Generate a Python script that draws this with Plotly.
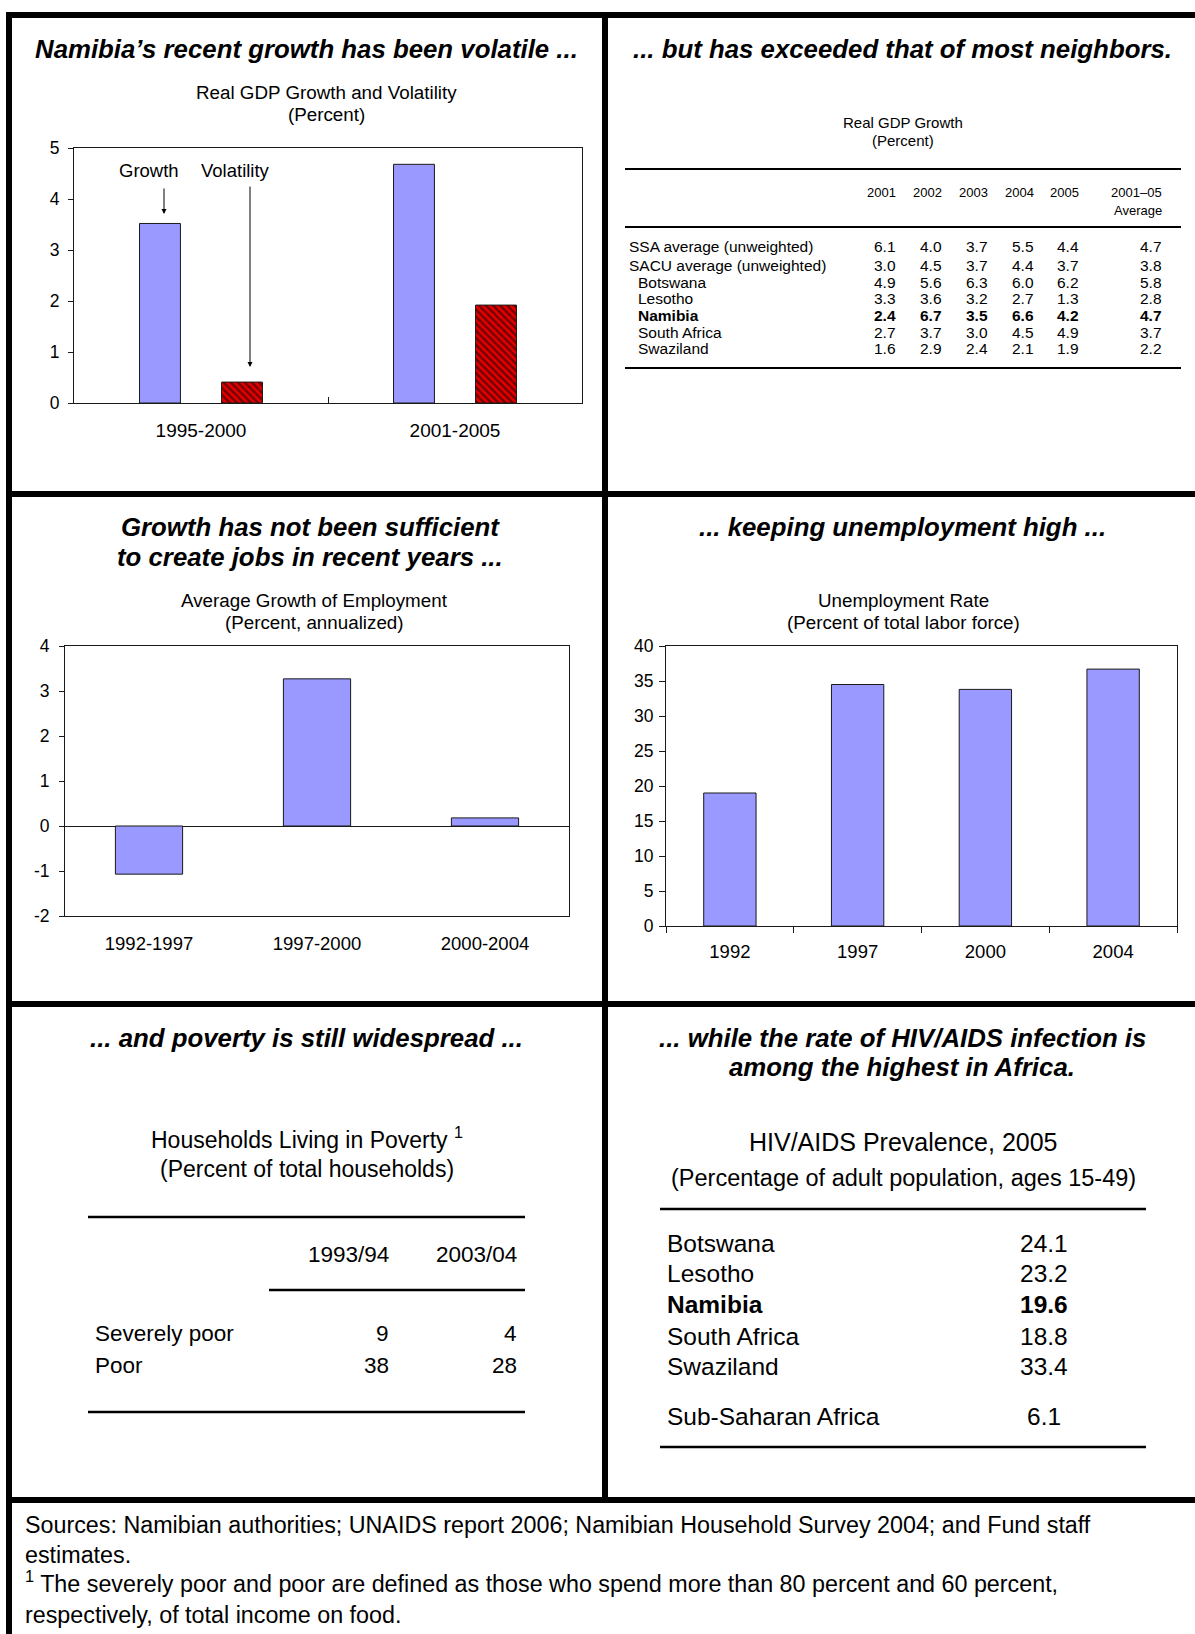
import plotly.graph_objects as go

W, H = 1195, 1634
FONT = "Liberation Sans, Arial, Helvetica, sans-serif"
PERI = "#9999FF"
RED = "#E80000"
EDGE = "#1a1a1a"
FRAME = "#1a1a1a"


def px(x):
    return x / W


def py(y):
    return 1 - y / H


# ---- Real GDP growth and volatility ----
gdp_periods = ["1995-2000", "2001-2005"]
gdp_growth = [3.52, 4.68]
gdp_volatility = [0.41, 1.92]
gdp_yticks = [0, 1, 2, 3, 4, 5]

# ---- Real GDP growth table ----
table_years = ["2001", "2002", "2003", "2004", "2005"]
table_avg_head = ["2001–05", "Average"]
table_labels = ["SSA average (unweighted)", "SACU average (unweighted)", "Botswana",
                "Lesotho", "Namibia", "South Africa", "Swaziland"]
ssa_growth = [6.1, 4.0, 3.7, 5.5, 4.4, 4.7]
sacu_growth = [3.0, 4.5, 3.7, 4.4, 3.7, 3.8]
botswana_growth = [4.9, 5.6, 6.3, 6.0, 6.2, 5.8]
lesotho_growth = [3.3, 3.6, 3.2, 2.7, 1.3, 2.8]
namibia_growth = [2.4, 6.7, 3.5, 6.6, 4.2, 4.7]
south_africa_growth = [2.7, 3.7, 3.0, 4.5, 4.9, 3.7]
swaziland_growth = [1.6, 2.9, 2.4, 2.1, 1.9, 2.2]

# ---- Employment growth ----
emp_periods = ["1992-1997", "1997-2000", "2000-2004"]
emp_growth = [-1.07, 3.27, 0.18]
emp_yticks = [-2, -1, 0, 1, 2, 3, 4]

# ---- Unemployment ----
unemp_years = ["1992", "1997", "2000", "2004"]
unemp_rate = [19.0, 34.5, 33.8, 36.7]
unemp_yticks = [0, 5, 10, 15, 20, 25, 30, 35, 40]

# ---- Poverty ----
poverty_years = ["1993/94", "2003/04"]
poverty_labels = ["Severely poor", "Poor"]
severely_poor = [9, 4]
poor = [38, 28]

# ---- HIV/AIDS ----
hiv_countries = ["Botswana", "Lesotho", "Namibia", "South Africa", "Swaziland"]
hiv_prevalence = [24.1, 23.2, 19.6, 18.8, 33.4]
hiv_ssa_label = "Sub-Saharan Africa"
hiv_ssa = 6.1

footer_lines = [
    "Sources: Namibian authorities; UNAIDS report 2006; Namibian Household Survey 2004; and Fund staff",
    "estimates.",
    "<sup>1</sup> The severely poor and poor are defined as those who spend more than 80 percent and 60 percent,",
    "respectively, of total income on food.",
]

fig = go.Figure()

# GDP bars
fig.add_trace(go.Bar(
    x=gdp_periods, y=gdp_growth, xaxis="x", yaxis="y",
    width=0.161, offset=-0.242,
    marker=dict(color=PERI, line=dict(color=EDGE, width=1)),
    showlegend=False, hoverinfo="skip"))
fig.add_trace(go.Bar(
    x=gdp_periods, y=gdp_volatility, xaxis="x", yaxis="y",
    width=0.161, offset=0.081,
    marker=dict(color=RED, line=dict(color=EDGE, width=1),
                pattern=dict(shape="\\", fgcolor="#000000", bgcolor=RED,
                             size=5, solidity=0.5)),
    showlegend=False, hoverinfo="skip"))

# Employment bars
fig.add_trace(go.Bar(
    x=emp_periods, y=emp_growth, xaxis="x2", yaxis="y2",
    width=0.40, offset=-0.20,
    marker=dict(color=PERI, line=dict(color=EDGE, width=1)),
    showlegend=False, hoverinfo="skip"))

# Unemployment bars
fig.add_trace(go.Bar(
    x=unemp_years, y=unemp_rate, xaxis="x3", yaxis="y3",
    width=0.41, offset=-0.205,
    marker=dict(color=PERI, line=dict(color=EDGE, width=1)),
    showlegend=False, hoverinfo="skip"))

box = dict(showline=True, linecolor=FRAME, linewidth=1, mirror=True,
           showgrid=False, zeroline=False, fixedrange=True, automargin=False,
           tickcolor=FRAME, tickfont=dict(family=FONT, size=18.5, color="#000"))
ytf = dict(family=FONT, size=17.5, color="#000")

fig.update_layout(
    width=W, height=H,
    margin=dict(l=0, r=0, t=0, b=0, pad=0, autoexpand=False),
    paper_bgcolor="white", plot_bgcolor="white",
    font=dict(family=FONT, color="#000"),
    barmode="overlay",
    xaxis=dict(box, domain=[px(74), px(582)], anchor="y", type="category",
               ticks="inside", tickson="boundaries", ticklen=6, ticklabelstandoff=10,
               tickfont=dict(family=FONT, size=19, color="#000")),
    yaxis=dict(box, domain=[py(403), py(148)], anchor="x", range=[0, 5],
               tickvals=gdp_yticks, ticktext=[str(v) for v in gdp_yticks],
               ticks="outside", ticklen=5, ticklabelstandoff=5, tickfont=ytf),
    xaxis2=dict(box, domain=[px(65), px(569)], anchor="y2", type="category",
                ticks="", ticklabelstandoff=11),
    yaxis2=dict(box, domain=[py(916), py(646)], anchor="x2", range=[-2, 4],
                tickvals=emp_yticks, ticktext=[str(v) for v in emp_yticks],
                ticks="outside", ticklen=5, ticklabelstandoff=6,
                zeroline=True, zerolinecolor=FRAME, zerolinewidth=1, tickfont=ytf),
    # category-boundary ticks hanging from the zero line
    xaxis4=dict(overlaying="x2", anchor="free", position=py(826), type="linear",
                range=[-0.5, 2.5], tickvals=[0.5, 1.5], ticks="outside", ticklen=6,
                tickcolor=FRAME, showticklabels=False, showline=False,
                showgrid=False, zeroline=False, fixedrange=True, automargin=False),
    xaxis3=dict(box, domain=[px(666), px(1177)], anchor="y3", type="category",
                ticks="outside", tickson="boundaries", ticklen=6, ticklabelstandoff=9),
    yaxis3=dict(box, domain=[py(926), py(646)], anchor="x3", range=[0, 40],
                tickvals=unemp_yticks, ticktext=[str(v) for v in unemp_yticks],
                ticks="outside", ticklen=6, ticklabelstandoff=2, tickfont=ytf),
)

ann = []


def txt(x, y, s, size, anchor="center", bold=False, italic=False):
    if italic:
        s = "<i>" + s + "</i>"
    if bold:
        s = "<b>" + s + "</b>"
    ann.append(dict(x=px(x), y=py(y), xref="paper", yref="paper", text=s,
                    showarrow=False, xanchor=anchor, yanchor="middle",
                    font=dict(family=FONT, size=size, color="#000")))


TS = 25.8
# Panel titles
txt(306, 49, "Namibia’s recent growth has been volatile ...", TS, bold=True, italic=True)
txt(902, 49, "... but has exceeded that of most neighbors.", TS, bold=True, italic=True)
txt(310, 527, "Growth has not been sufficient", TS, bold=True, italic=True)
txt(310, 557, "to create jobs in recent years ...", TS, bold=True, italic=True)
txt(902, 527, "... keeping unemployment high ...", TS, bold=True, italic=True)
txt(306, 1038, "... and poverty is still widespread ...", TS, bold=True, italic=True)
txt(902, 1038, "... while the rate of HIV/AIDS infection is", TS, bold=True, italic=True)
txt(902, 1067, "among the highest in Africa.", TS, bold=True, italic=True)

# Chart subtitles
txt(326, 92, "Real GDP Growth and Volatility", 18.8)
txt(326, 114, "(Percent)", 18.8)
txt(314, 600, "Average Growth of Employment", 18.8)
txt(314, 622, "(Percent, annualized)", 18.8)
txt(903, 600, "Unemployment Rate", 18.8)
txt(903, 622, "(Percent of total labor force)", 18.8)

# Growth / Volatility call-outs
txt(149, 170, "Growth", 18.5)
txt(235, 170, "Volatility", 18.5)
for ax_x, y0, y1 in [(164, 187, 214), (250, 185, 367)]:
    ann.append(dict(x=px(ax_x), y=py(y1), xref="paper", yref="paper",
                    ax=0, ay=-(y1 - y0), axref="pixel", ayref="pixel",
                    text="", showarrow=True, arrowhead=2, arrowsize=1,
                    arrowwidth=1, arrowcolor="#000", standoff=0, startstandoff=0))

# ---- GDP growth table ----
txt(903, 123, "Real GDP Growth", 15)
txt(903, 141, "(Percent)", 15)
col_right = [898, 944, 990, 1036, 1081, 1164]
for xr, yr in zip(col_right, table_years):
    txt(xr, 192, yr, 13, anchor="right")
txt(col_right[-1], 192, table_avg_head[0], 13, anchor="right")
txt(col_right[-1], 210, table_avg_head[1], 13, anchor="right")
table_values = [ssa_growth, sacu_growth, botswana_growth, lesotho_growth,
                namibia_growth, south_africa_growth, swaziland_growth]
row_y = [246, 265, 282, 298, 315, 332, 348]
for i, (lab, vals, yy) in enumerate(zip(table_labels, table_values, row_y)):
    bold = lab == "Namibia"
    txt(627 if i < 2 else 636, yy, lab, 15.5, anchor="left", bold=bold)
    for xr, v in zip(col_right, vals):
        txt(xr, yy, f"{v:.1f}", 15.5, anchor="right", bold=bold)

# ---- Poverty table ----
txt(307, 1138, "Households Living in Poverty <sup>1</sup>", 23)
txt(307, 1169, "(Percent of total households)", 23)
pov_right = [391, 519]
for xr, yr in zip(pov_right, poverty_years):
    txt(xr, 1254, yr, 22.5, anchor="right")
for lab, vals, yy in zip(poverty_labels, [severely_poor, poor], [1333, 1365]):
    txt(93, yy, lab, 22.5, anchor="left")
    for xr, v in zip(pov_right, vals):
        txt(xr, yy, str(v), 22.5, anchor="right")

# ---- HIV/AIDS table ----
txt(903, 1142, "HIV/AIDS Prevalence, 2005", 25)
txt(903, 1178, "(Percentage of adult population, ages 15-49)", 23.5)
for lab, v, yy in zip(hiv_countries, hiv_prevalence, [1243, 1273, 1304, 1336, 1366]):
    bold = lab == "Namibia"
    txt(665, yy, lab, 24.5, anchor="left", bold=bold)
    txt(1044, yy, f"{v:.1f}", 24.5, bold=bold)
txt(665, 1416, hiv_ssa_label, 24.5, anchor="left")
txt(1044, 1416, f"{hiv_ssa:.1f}", 24.5)

# ---- Footer ----
for line, yy in zip(footer_lines, [1525, 1555, 1582, 1615]):
    txt(23, yy, line, 23.3, anchor="left")

fig.update_layout(annotations=ann)

# Frame and rules
shapes = []


def rect(x0, y0, x1, y1):
    shapes.append(dict(type="rect", xref="paper", yref="paper",
                       x0=px(x0), x1=px(x1), y0=py(y1), y1=py(y0),
                       fillcolor="#000", line=dict(width=0), layer="above"))


def rule(x0, x1, y, w):
    shapes.append(dict(type="line", xref="paper", yref="paper",
                       x0=px(x0), x1=px(x1), y0=py(y), y1=py(y),
                       line=dict(color="#000", width=w)))


rect(6, 12, 12, 1634)       # left edge
rect(6, 12, 1195, 18)       # top edge
rect(602, 12, 608, 1503)    # centre divider
rect(6, 491, 1195, 497)
rect(6, 1001, 1195, 1007)
rect(6, 1497, 1195, 1503)

rule(625, 1181, 169, 2)
rule(625, 1181, 227, 2)
rule(625, 1181, 368, 2)
rule(88, 525, 1217, 2.5)
rule(269, 525, 1290, 2.5)
rule(88, 525, 1412, 2.5)
rule(660, 1146, 1209, 2.5)
rule(660, 1146, 1447, 2.5)

fig.update_layout(shapes=shapes)

fig.write_html("out.html")
